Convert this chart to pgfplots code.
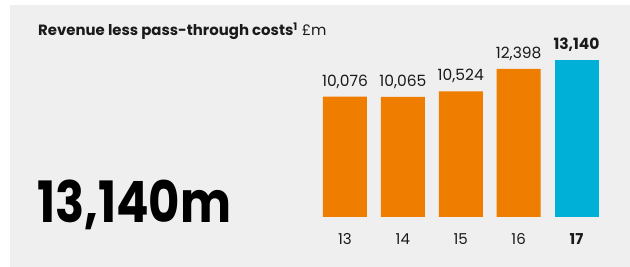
\documentclass[border=0pt]{standalone}
\usepackage{pgfplots}
\pgfplotsset{compat=1.18}
\usepackage{fontspec}
\setmainfont{Poppins}
\definecolor{bgrey}{HTML}{EFEFEF}
\definecolor{orng}{HTML}{EF7D00}
\definecolor{cyn}{HTML}{00B0D6}
\definecolor{txt}{HTML}{1A1A1A}
\begin{document}
\begin{tikzpicture}[x=1pt,y=1pt]
\useasboundingbox (0,0) rectangle (630,267);
\fill[white] (0,0) rectangle (630,267);
\fill[bgrey] (10,0) rectangle (630,262);
\node[anchor=base west, inner sep=0, text=txt, font=\fontsize{14.9}{17}\selectfont] at (38,231)
  {\textbf{Revenue less pass-through costs}\textsuperscript{\textbf{1}} £m};
\node[anchor=base west, inner sep=0, text=black] at (37,44)
  {\scalebox{0.845}[1]{\fontsize{57}{60}\selectfont\bfseries 13,140m}};
\begin{axis}[
  at={(316pt,50pt)}, anchor=south west,
  scale only axis, width=289.5pt, height=179.2pt,
  xmin=-0.5, xmax=4.5, ymin=0, ymax=15000,
  axis lines=none,
  ybar, bar width=44pt,
  clip=false,
  every node near coord/.append style={font=\fontsize{15.5}{17}\selectfont, text=txt, inner sep=0pt, yshift=8pt, anchor=south},
  nodes near coords,
  point meta=explicit symbolic,
]
\addplot[fill=orng, draw=none, bar shift=0pt] coordinates {
  (0,10076) [10,076] (1,10065) [10,065] (2,10524) [10,524] (3,12398) [12,398]};
\addplot[fill=cyn, draw=none, bar shift=0pt,
  every node near coord/.append style={font=\fontsize{15.5}{17}\selectfont\bfseries}] coordinates {
  (4,13140) [13,140]};
\node[anchor=base, text=txt, font=\fontsize{15}{17}\selectfont, inner sep=0] at (axis cs:0,0) [yshift=-28pt] {13};
\node[anchor=base, text=txt, font=\fontsize{15}{17}\selectfont, inner sep=0] at (axis cs:1,0) [yshift=-28pt] {14};
\node[anchor=base, text=txt, font=\fontsize{15}{17}\selectfont, inner sep=0] at (axis cs:2,0) [yshift=-28pt] {15};
\node[anchor=base, text=txt, font=\fontsize{15}{17}\selectfont, inner sep=0] at (axis cs:3,0) [yshift=-28pt] {16};
\node[anchor=base, text=txt, font=\fontsize{15}{17}\selectfont\bfseries, inner sep=0] at (axis cs:4,0) [yshift=-28pt] {17};
\end{axis}
\end{tikzpicture}
\end{document}
